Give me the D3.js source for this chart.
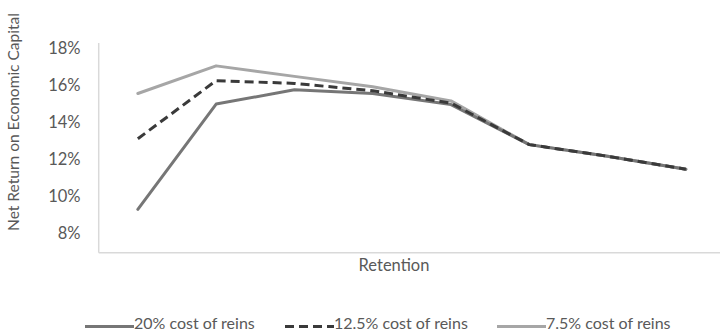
<!DOCTYPE html>
<html>
<head>
<meta charset="utf-8">
<script src="https://cdn.jsdelivr.net/npm/d3@7/dist/d3.min.js"></script>
<style>
  html, body { margin: 0; padding: 0; background: #fff; }
  svg { display: block; font-family: "Lato", "Open Sans", sans-serif; font-weight: 400; }
</style>
</head>
<body>
<svg id="chart" width="720" height="332"></svg>
<script>
// Retention points (unlabelled on the category axis)
const categories = ["R1", "R2", "R3", "R4", "R5", "R6", "R7", "R8"];

// Net return on economic capital, in percent, per reinsurance cost scenario
const cost20  = [9.27, 14.98, 15.75, 15.55, 14.95, 12.78, 12.15, 11.45];
const cost125 = [13.1, 16.25, 16.1, 15.7, 15.03, 12.78, 12.15, 11.45];
const cost75  = [15.55, 17.05, 16.48, 15.92, 15.15, 12.78, 12.15, 11.45];

const yTicks = [8, 10, 12, 14, 16, 18];

const seriesNames = ["20% cost of reins", "12.5% cost of reins", "7.5% cost of reins"];

const series = [
  { name: seriesNames[0], values: cost20,  color: "#767676", dash: null },
  { name: seriesNames[1], values: cost125, color: "#3a3a3a", dash: "9,5" },
  { name: seriesNames[2], values: cost75,  color: "#a6a6a6", dash: null }
];

const svg = d3.select("#chart");
const plotLeft = 98.7, plotRight = 725, plotTop = 43, plotBottom = 252.7;

const x = d3.scalePoint().domain(categories).range([plotLeft, plotRight]).padding(0.5);
const y = d3.scaleLinear().domain([6.92, 18.29]).range([plotBottom, plotTop]);

const textColor = "#595959";
const axisColor = "#d9d9d9";
const fontFamily = "Lato, 'Open Sans', sans-serif";

// Axes lines
svg.append("line")
  .attr("x1", plotLeft).attr("x2", plotLeft)
  .attr("y1", plotTop).attr("y2", plotBottom)
  .attr("stroke", axisColor).attr("stroke-width", 1.5);
svg.append("line")
  .attr("x1", plotLeft).attr("x2", 720)
  .attr("y1", plotBottom).attr("y2", plotBottom)
  .attr("stroke", axisColor).attr("stroke-width", 1.5);

// Y tick labels
const yAxis = d3.axisLeft(y).tickValues(yTicks).tickFormat(d => d + "%").tickSize(0).tickPadding(0);
const yg = svg.append("g").attr("transform", `translate(80.5,0)`).call(yAxis);
yg.select(".domain").remove();
yg.selectAll("text")
  .attr("fill", textColor)
  .style("font-size", "16.5px")
  .style("font-family", fontFamily)
  .style("font-weight", 400);

// Axis titles
svg.append("text")
  .attr("transform", `translate(19,122) rotate(-90)`)
  .attr("text-anchor", "middle")
  .attr("fill", textColor)
  .style("font-size", "15.5px")
  .text("Net Return on Economic Capital");

svg.append("text")
  .attr("x", 394).attr("y", 271)
  .attr("text-anchor", "middle")
  .attr("fill", textColor)
  .style("font-size", "16.5px")
  .text("Retention");

// Lines
const line = d3.line()
  .x((d, i) => x(categories[i]))
  .y(d => y(d));

// light series first, then mid, then the dashed one on top
const drawOrder = [2, 0, 1];
drawOrder.forEach(k => {
  const s = series[k];
  svg.append("path")
    .datum(s.values)
    .attr("d", line)
    .attr("fill", "none")
    .attr("stroke", s.color)
    .attr("stroke-width", 3)
    .attr("stroke-linejoin", "round")
    .attr("stroke-linecap", s.dash ? "butt" : "round")
    .attr("stroke-dasharray", s.dash);
});

// Legend
const legendX = [85, 285, 497];
const legend = svg.append("g");
series.forEach((s, i) => {
  const g = legend.append("g").attr("transform", `translate(${legendX[i]},0)`);
  g.append("line")
    .attr("x1", 0).attr("x2", 49)
    .attr("y1", 326.5).attr("y2", 326.5)
    .attr("stroke", s.color)
    .attr("stroke-width", 3)
    .attr("stroke-dasharray", s.dash);
  g.append("text")
    .attr("x", 49).attr("y", 328.5)
    .attr("fill", textColor)
    .style("font-size", "16px")
    .text(s.name);
});
</script>
</body>
</html>
